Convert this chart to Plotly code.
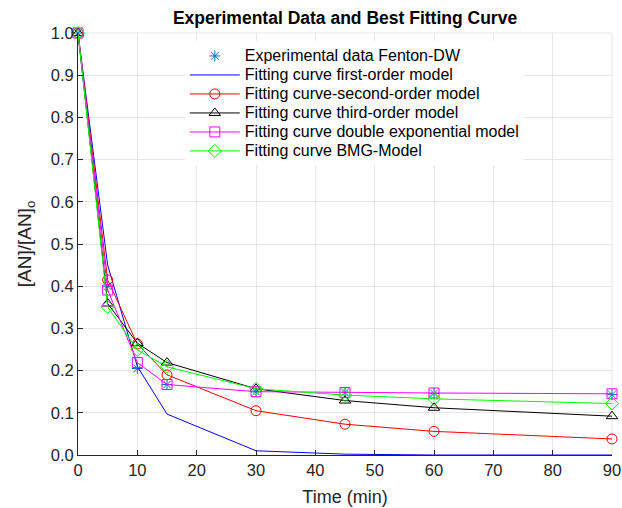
import plotly.graph_objects as go

time = [0, 5, 10, 15, 30, 45, 60, 90]
experimental = [1.0, 0.40, 0.205, 0.167, 0.150, 0.148, 0.146, 0.143]
first_order = [1.0, 0.45, 0.21, 0.097, 0.010, 0.002, 0.0, 0.0]
second_order = [1.0, 0.415, 0.263, 0.190, 0.105, 0.073, 0.056, 0.038]
third_order = [1.0, 0.359, 0.265, 0.219, 0.157, 0.129, 0.112, 0.092]
double_exp = [1.0, 0.391, 0.219, 0.167, 0.150, 0.148, 0.147, 0.145]
bmg = [1.0, 0.351, 0.249, 0.209, 0.157, 0.142, 0.133, 0.122]

x_ticks = [0, 10, 20, 30, 40, 50, 60, 70, 80, 90]
y_ticks = [0.0, 0.1, 0.2, 0.3, 0.4, 0.5, 0.6, 0.7, 0.8, 0.9, 1.0]

FONT = "Liberation Sans, Arial, sans-serif"


def leg(name):
    return "<span style='font-size:16px'>" + name + "</span>"


fig = go.Figure()
fig.add_trace(go.Scatter(
    x=time, y=experimental, mode="markers", name=leg("Experimental data Fenton-DW"),
    marker=dict(symbol="asterisk-open", size=9, color="#0072BD",
                line=dict(color="#0072BD", width=1)),
    cliponaxis=False))
fig.add_trace(go.Scatter(
    x=time, y=first_order, mode="lines", name=leg("Fitting curve first-order model"),
    line=dict(color="#0000FF", width=1), cliponaxis=False))
series = [
    (second_order, "Fitting curve-second-order model", "#FF0000", "circle-open"),
    (third_order, "Fitting curve third-order model", "#000000", "triangle-up-open"),
    (double_exp, "Fitting curve double exponential model", "#FF00FF", "square-open"),
    (bmg, "Fitting curve BMG-Model", "#00FF00", "diamond-open"),
]
for ys, name, col, sym in series:
    fig.add_trace(go.Scatter(
        x=time, y=ys, mode="lines+markers", name=leg(name),
        line=dict(color=col, width=1),
        marker=dict(symbol=sym, size=10, color=col, line=dict(color=col, width=1)),
        cliponaxis=False))

fig.update_layout(
    width=622, height=508,
    margin=dict(l=78, r=10, t=33, b=53),
    paper_bgcolor="white", plot_bgcolor="white",
    font=dict(family=FONT, size=16.5, color="#262626"),
    title=dict(text="<b>Experimental Data and Best Fitting Curve</b>",
               x=0.5, xref="paper", xanchor="center", y=0.9646, yanchor="middle",
               font=dict(family=FONT, size=17.5, color="#000000")),
    showlegend=True,
    legend=dict(x=0.2, y=0.98, xanchor="left", yanchor="top",
                bgcolor="white", borderwidth=0,
                font=dict(family=FONT, size=12, color="#000000"),
                itemwidth=50, tracegroupgap=0),
    xaxis=dict(range=[0, 90], tickvals=x_ticks, showgrid=True, gridcolor="#E6E6E6",
               gridwidth=1, zeroline=False, showline=True, linecolor="#262626",
               linewidth=1, ticks="inside", ticklen=5, tickcolor="#262626",
               ticklabeloverflow="allow", automargin=False,
               tickfont=dict(size=16.5, color="#262626"),
               title=dict(text="Time (min)", font=dict(size=18, color="#262626"),
                          standoff=12)),
    yaxis=dict(range=[0, 1], tickvals=y_ticks, tickformat=".1f", showgrid=True,
               gridcolor="#E6E6E6", gridwidth=1, zeroline=False, showline=True,
               linecolor="#262626", linewidth=1, ticks="inside", ticklen=5,
               tickcolor="#262626", tickfont=dict(size=16.5, color="#262626"),
               automargin=False,
               title=dict(text="[AN]/[AN]<sub>o</sub>", font=dict(size=19, color="#262626"),
                          standoff=14)),
)
fig.add_shape(type="line", xref="paper", yref="paper", x0=0, x1=1, y0=1, y1=1,
              line=dict(color="#E6E6E6", width=1), layer="below")
fig.add_shape(type="line", xref="paper", yref="paper", x0=1, x1=1, y0=0, y1=1,
              line=dict(color="#E6E6E6", width=1), layer="below")

fig.write_html("out.html", config={"displayModeBar": False},
               post_script="document.body.style.margin='0px';")
